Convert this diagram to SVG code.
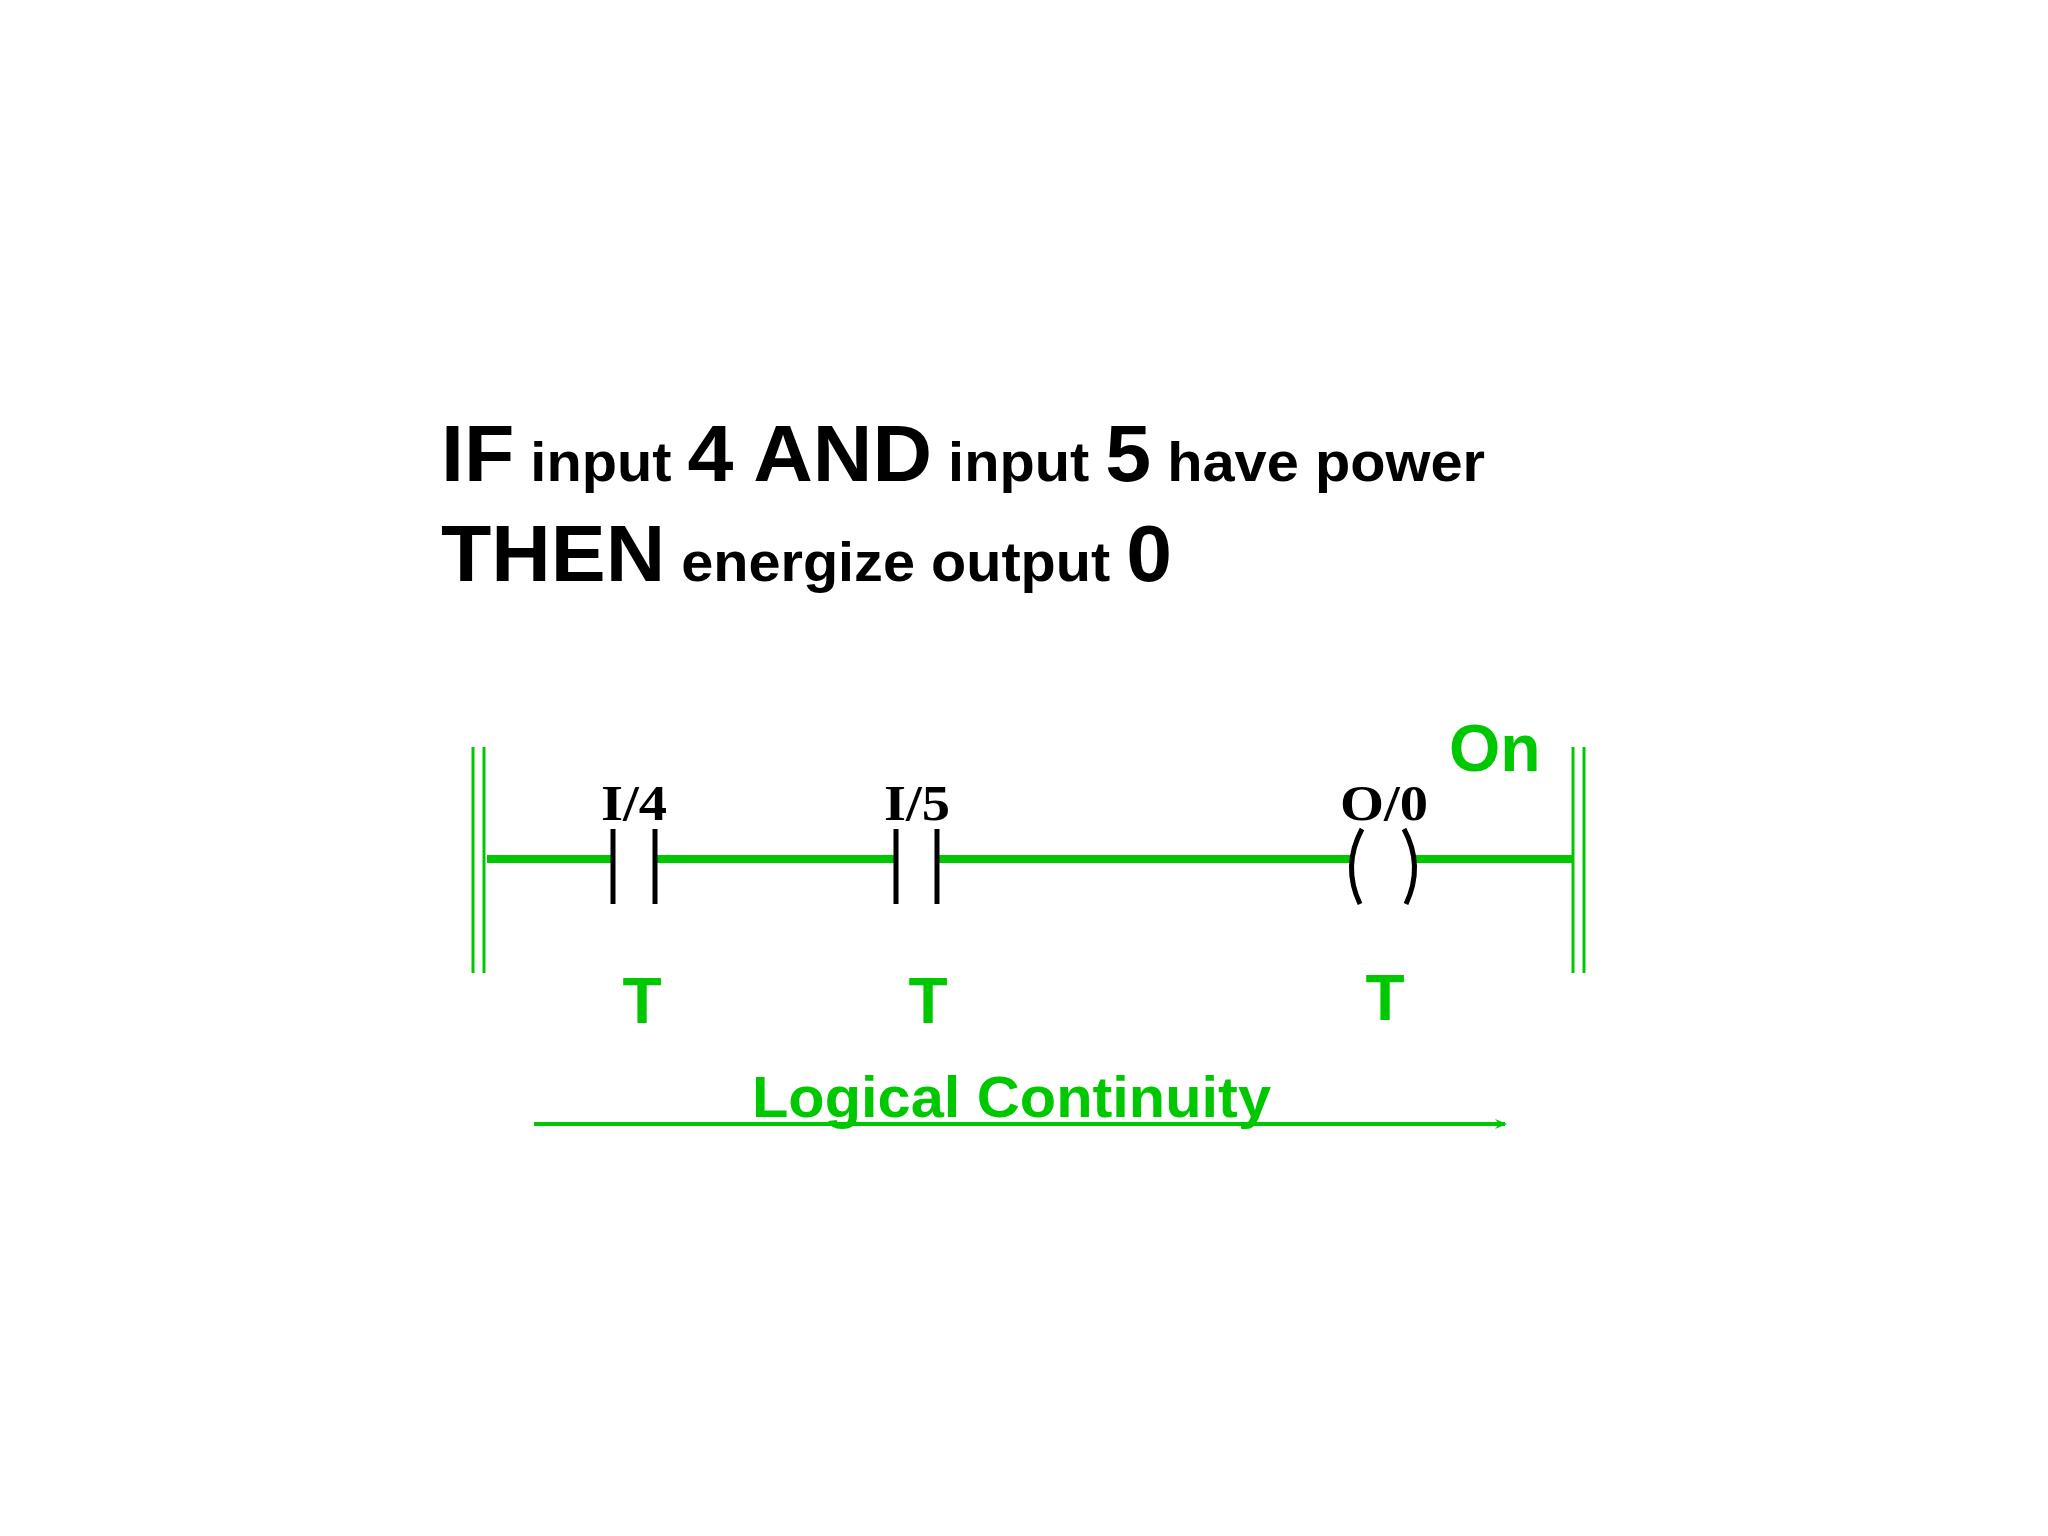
<svg xmlns="http://www.w3.org/2000/svg" width="2048" height="1536" viewBox="0 0 2048 1536">
<style>
.h{font-family:"Liberation Sans",Arial,sans-serif;font-weight:bold;fill:#000}
.big{font-size:80px}.sm{font-size:56px}
.lbl{font-family:"Liberation Serif","Times New Roman",serif;font-weight:bold;font-size:50px;fill:#000}
.g{font-family:"Liberation Sans",Arial,sans-serif;font-weight:bold;fill:#00c800}
.rail{stroke:#00c800;stroke-width:3}
.rung{stroke:#00c800;stroke-width:8}
.bar{stroke:#000;stroke-width:5}
</style>
<defs><marker id="ah" markerWidth="12" markerHeight="10" refX="10" refY="5" orient="auto" markerUnits="userSpaceOnUse"><path d="M0,0 L12,5 L0,10 L4,5 Z" fill="#00c800"/></marker></defs>
<rect width="2048" height="1536" fill="#fff"/>
<text class="h" x="441" y="481" textLength="1044" lengthAdjust="spacingAndGlyphs"><tspan class="big">IF</tspan><tspan class="sm"> input </tspan><tspan class="big">4 AND</tspan><tspan class="sm"> input </tspan><tspan class="big">5</tspan><tspan class="sm"> have power</tspan></text>
<text class="h" x="441" y="581" textLength="731" lengthAdjust="spacingAndGlyphs"><tspan class="big">THEN</tspan><tspan class="sm"> energize output </tspan><tspan class="big">0</tspan></text>
<g id="left-rail"><line class="rail" x1="473" y1="747" x2="473" y2="973"/><line class="rail" x1="484" y1="747" x2="484" y2="973"/></g>
<g id="right-rail"><line class="rail" x1="1573" y1="747" x2="1573" y2="973"/><line class="rail" x1="1584" y1="747" x2="1584" y2="973"/></g>
<g id="connectors">
<line class="rung" x1="487" y1="859" x2="612" y2="859"/>
<line class="rung" x1="656" y1="859" x2="895" y2="859"/>
<line class="rung" x1="938" y1="859" x2="1352" y2="859"/>
<line class="rung" x1="1416" y1="859" x2="1573" y2="859"/>
<line stroke="#00c800" stroke-width="4" x1="534" y1="1124" x2="1505" y2="1124" marker-end="url(#ah)"/>
</g>
<g id="I4"><line class="bar" x1="613" y1="829" x2="613" y2="904"/><line class="bar" x1="655" y1="829" x2="655" y2="904"/><text class="lbl" x="634" y="820" text-anchor="middle" textLength="66" lengthAdjust="spacingAndGlyphs">I/4</text><text class="g" x="642" y="1023" font-size="64" text-anchor="middle">T</text></g>
<g id="I5"><line class="bar" x1="896" y1="829" x2="896" y2="904"/><line class="bar" x1="937" y1="829" x2="937" y2="904"/><text class="lbl" x="917" y="820" text-anchor="middle" textLength="66" lengthAdjust="spacingAndGlyphs">I/5</text><text class="g" x="928" y="1023" font-size="64" text-anchor="middle">T</text></g>
<g id="O0"><path d="M1362,829 Q1342,866 1360,904" fill="none" stroke="#000" stroke-width="5"/><path d="M1404,829 Q1424,866 1406,904" fill="none" stroke="#000" stroke-width="5"/><text class="lbl" x="1384" y="820" text-anchor="middle" textLength="88" lengthAdjust="spacingAndGlyphs">O/0</text><text class="g" x="1385" y="1020" font-size="64" text-anchor="middle">T</text><text class="g" x="1449" y="771" font-size="66">On</text></g>
<text class="g" x="752" y="1117" font-size="58" textLength="519" lengthAdjust="spacingAndGlyphs">Logical Continuity</text>
</svg>
